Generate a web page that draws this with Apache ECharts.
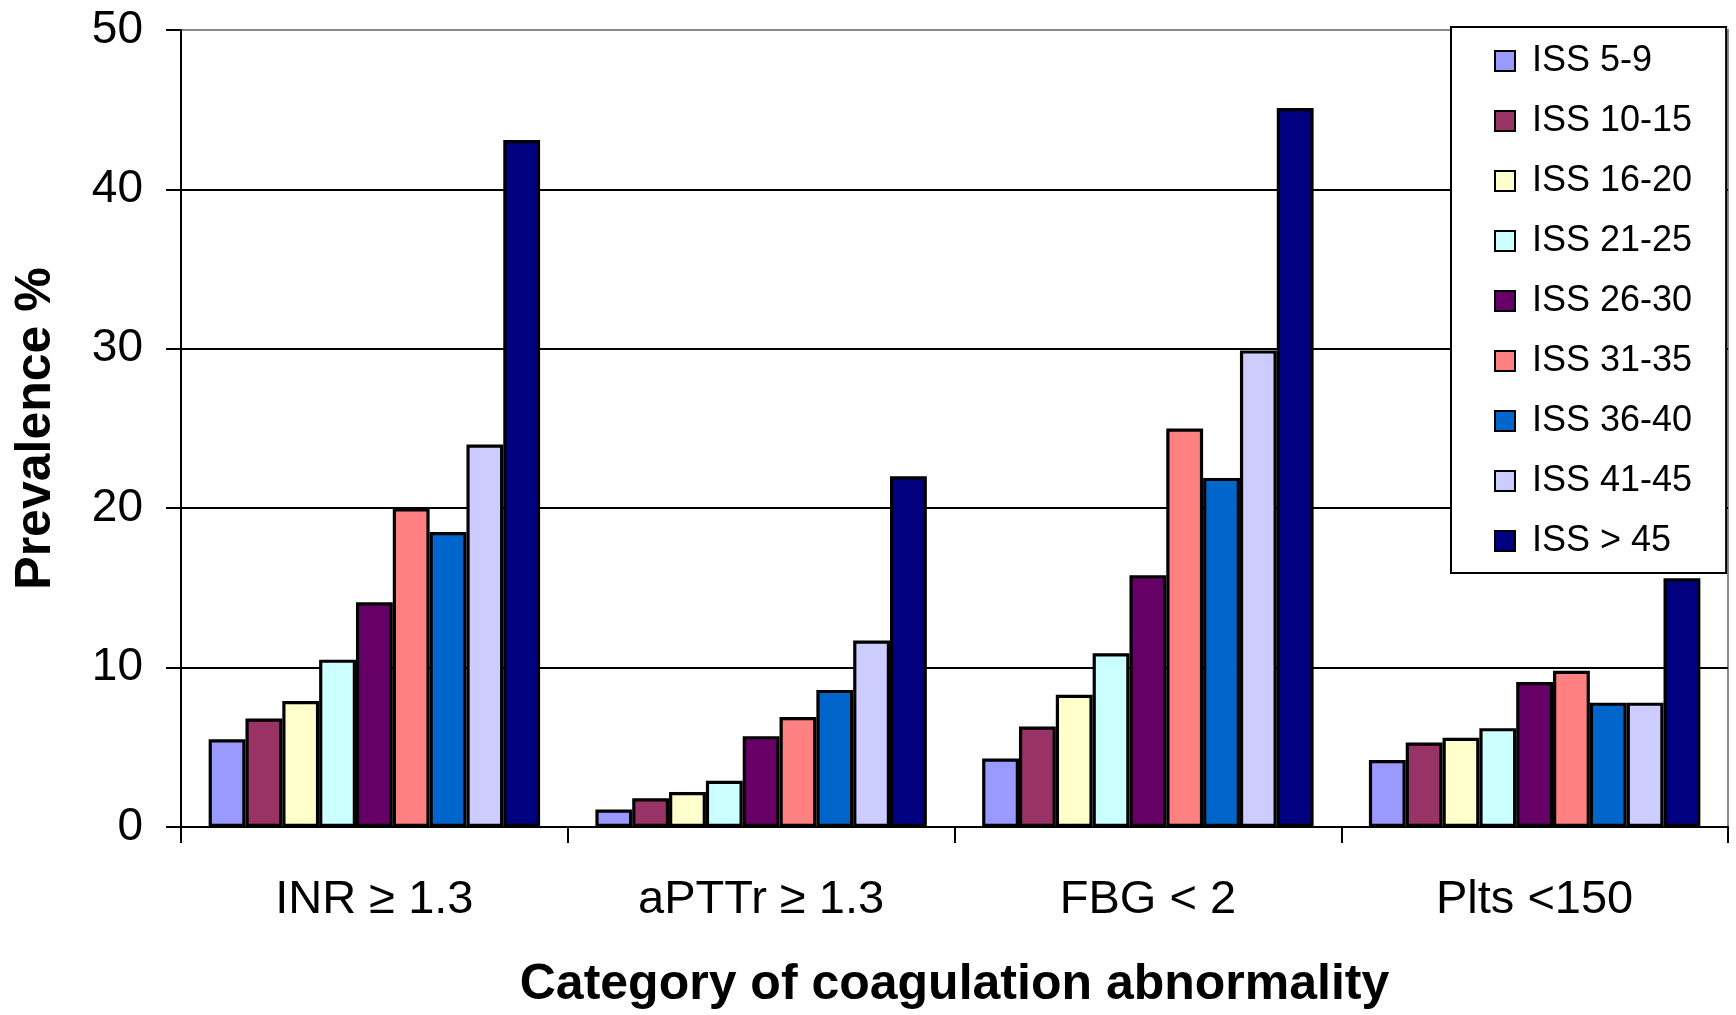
<!DOCTYPE html>
<html>
<head>
<meta charset="utf-8">
<title>Prevalence of coagulation abnormality by ISS</title>
<script src="https://cdn.jsdelivr.net/npm/echarts@6/dist/echarts.min.js"></script>
<style>
  html, body { margin: 0; padding: 0; background: #ffffff; }
  #chart { width: 1736px; height: 1015px; }
</style>
</head>
<body>
<div id="chart"></div>
<script>
// Categories of coagulation abnormality (x axis)
const categories = ['INR \u2265 1.3', 'aPTTr \u2265 1.3', 'FBG < 2', 'Plts <150'];

// Injury Severity Score groups (series)
const issGroups = ['ISS 5-9', 'ISS 10-15', 'ISS 16-20', 'ISS 21-25', 'ISS 26-30',
                   'ISS 31-35', 'ISS 36-40', 'ISS 41-45', 'ISS > 45'];

// Prevalence % per ISS group, one array per abnormality
const inr   = [5.5, 6.8, 7.9, 10.5, 14.1, 20.0, 18.5, 24.0, 43.1];
const apttr = [1.1, 1.8, 2.2, 2.9, 5.7, 6.9, 8.6, 11.7, 22.0];
const fbg   = [4.3, 6.3, 8.3, 10.9, 15.8, 25.0, 21.9, 29.9, 45.1];
const plts  = [4.2, 5.3, 5.6, 6.2, 9.1, 9.8, 7.8, 7.8, 15.6];

// Y axis ticks
const yTicks = [0, 10, 20, 30, 40, 50];

const groupColors = ['#9999FF', '#993366', '#FFFFCC', '#CCFFFF', '#660066',
                     '#FF8080', '#0066CC', '#CCCCFF', '#000080'];

const byCategory = [inr, apttr, fbg, plts];
const FONT = '"Liberation Sans", Arial, sans-serif';

const series = issGroups.map((name, i) => ({
  name: name,
  type: 'bar',
  barGap: '0%',
  barCategoryGap: '14.3%',
  data: byCategory.map(arr => arr[i]),
  itemStyle: {
    color: groupColors[i],
    borderColor: '#000000',
    borderWidth: 3.2
  },
  emphasis: { disabled: true }
}));

const chart = echarts.init(document.getElementById('chart'), null, { renderer: 'canvas' });

chart.setOption({
  animation: false,
  backgroundColor: '#ffffff',
  textStyle: { fontFamily: FONT, color: '#000000' },
  grid: {
    left: 181, right: 8, top: 30, bottom: 182,
    show: true,
    borderColor: '#888888',
    borderWidth: 2,
    backgroundColor: 'transparent'
  },
  legend: {
    orient: 'vertical',
    left: 1451,
    top: 27,
    data: issGroups,
    backgroundColor: '#ffffff',
    borderColor: '#000000',
    borderWidth: 2,
    padding: [16, 34, 14, 43],
    itemWidth: 20,
    itemHeight: 20,
    itemGap: 24,
    icon: 'rect',
    itemStyle: { borderColor: '#000000', borderWidth: 2 },
    textStyle: {
      fontFamily: FONT,
      fontSize: 36,
      lineHeight: 36,
      color: '#000000',
      padding: [0, 0, 0, 12]
    },
    selectedMode: false
  },
  xAxis: {
    type: 'category',
    data: categories,
    name: 'Category of coagulation abnormality',
    nameLocation: 'middle',
    nameGap: 133,
    nameTextStyle: { fontFamily: FONT, fontSize: 50, fontWeight: 'bold', color: '#000000' },
    axisLine: { show: true, lineStyle: { color: '#000000', width: 2 } },
    axisTick: { show: true, length: 16, lineStyle: { color: '#000000', width: 2 } },
    axisLabel: { fontFamily: FONT, fontSize: 47, lineHeight: 47, color: '#000000', margin: 50 },
    splitLine: { show: false }
  },
  yAxis: {
    type: 'value',
    min: yTicks[0],
    max: yTicks[yTicks.length - 1],
    interval: 10,
    name: 'Prevalence %',
    nameLocation: 'middle',
    nameGap: 120,
    nameTextStyle: { fontFamily: FONT, fontSize: 50, fontWeight: 'bold', color: '#000000' },
    axisLine: { show: true, lineStyle: { color: '#000000', width: 2 } },
    axisTick: { show: true, inside: false, length: 15, lineStyle: { color: '#000000', width: 2 } },
    axisLabel: { fontFamily: FONT, fontSize: 46, color: '#000000', margin: 38 },
    splitLine: {
      show: true,
      lineStyle: { color: ['#000000', '#000000', '#000000', '#000000', '#000000', '#888888'], width: 2 }
    }
  },
  series: series
});
</script>
</body>
</html>
